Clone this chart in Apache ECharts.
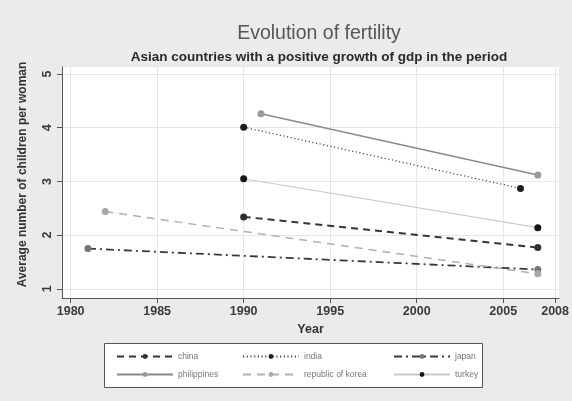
<!DOCTYPE html>
<html>
<head>
<meta charset="utf-8">
<script src="https://cdn.jsdelivr.net/npm/echarts@6/dist/echarts.min.js"></script>
<style>
html,body{margin:0;padding:0;background:#ebebeb;}
#chart{width:572px;height:401px;}
</style>
</head>
<body>
<div id="chart"></div>
<script>
// Data
const countries = ['china', 'india', 'japan', 'philippines', 'republic of korea', 'turkey'];
const startYear = [1990, 1990, 1981, 1991, 1982, 1990];
const endYear = [2007, 2006, 2007, 2007, 2007, 2007];
const startValue = [2.34, 4.01, 1.75, 4.26, 2.44, 3.05];
const endValue = [1.77, 2.87, 1.36, 3.12, 1.28, 2.14];
const xTicks = [1980, 1985, 1990, 1995, 2000, 2005, 2008];
const yTicks = [1, 2, 3, 4, 5];

// Styles
const lineColors = ['#353535', '#4a4a4a', '#3a3a3a', '#8a8a8a', '#b0b0b0', '#cacaca'];
const markerColors = ['#303030', '#1e1e1e', '#767676', '#999999', '#a8a8a8', '#151515'];
const lineTypes = [[7, 5], [1.2, 2.5], [8, 4, 2, 4], 'solid', [8, 6], 'solid'];
const lineWidths = [2, 1.3, 1.8, 1.5, 1.5, 1.2];

const chart = echarts.init(document.getElementById('chart'));

const series = countries.map((name, i) => ({
  name: name,
  type: 'line',
  data: [[startYear[i], startValue[i]], [endYear[i], endValue[i]]],
  symbol: 'circle',
  symbolSize: 7,
  showSymbol: true,
  itemStyle: { color: markerColors[i] },
  lineStyle: { color: lineColors[i], width: lineWidths[i], type: lineTypes[i] },
  emphasis: { disabled: true },
  animation: false
}));

const legendBase = {
  orient: 'vertical',
  top: 347,
  itemWidth: 56,
  itemHeight: 6,
  itemGap: 9,
  textStyle: { fontSize: 8.5, color: '#777', fontFamily: 'Liberation Sans' },
  selectedMode: false
};

chart.setOption({
  backgroundColor: '#ebebeb',
  animation: false,
  title: [
    {
      text: 'Evolution of fertility',
      left: 314, top: 19, textAlign: 'center',
      textStyle: { fontSize: 19.5, fontWeight: 'normal', color: '#555', fontFamily: 'Liberation Sans' }
    },
    {
      text: 'Asian countries with a positive growth of gdp in the period',
      left: 314, top: 45, textAlign: 'center',
      textStyle: { fontSize: 13.5, fontWeight: 'bold', color: '#2a2a2a', fontFamily: 'Liberation Sans' }
    }
  ],
  grid: {
    left: 62, right: 8, top: 67, bottom: 103,
    show: true, backgroundColor: '#ffffff', borderWidth: 0
  },
  xAxis: {
    type: 'value',
    min: 1979.5, max: 2008.23,
    name: 'Year', nameLocation: 'middle', nameGap: 24,
    nameTextStyle: { fontSize: 12.5, fontWeight: 'bold', color: '#333', fontFamily: 'Liberation Sans' },
    axisLine: { show: true, lineStyle: { color: '#555', width: 1 } },
    axisTick: { show: true, length: 5, lineStyle: { color: '#555' }, customValues: xTicks },
    axisLabel: { fontSize: 12.5, fontWeight: 'bold', color: '#3a3a3a', margin: 7, fontFamily: 'Liberation Sans', customValues: xTicks, formatter: v => String(v) },
    splitLine: { show: true, lineStyle: { color: '#e6e6e6', width: 1 } }
  },
  yAxis: {
    type: 'value',
    min: 0.83, max: 5.13,
    name: 'Average number of children per woman', nameLocation: 'middle', nameGap: 33,
    nameTextStyle: { fontSize: 12, fontWeight: 'bold', color: '#333', fontFamily: 'Liberation Sans', padding: [0, 0, 0, 16] },
    axisLine: { show: true, lineStyle: { color: '#555', width: 1 } },
    axisTick: { show: true, length: 5, lineStyle: { color: '#555' }, customValues: yTicks },
    axisLabel: { fontSize: 12.5, fontWeight: 'bold', color: '#3a3a3a', rotate: 90, margin: 8, fontFamily: 'Liberation Sans', customValues: yTicks },
    splitLine: { show: true, lineStyle: { color: '#e6e6e6', width: 1 } }
  },
  legend: [
    Object.assign({}, legendBase, { left: 111, data: [countries[0], countries[3]] }),
    Object.assign({}, legendBase, { left: 237, data: [countries[1], countries[4]] }),
    Object.assign({}, legendBase, { left: 388, data: [countries[2], countries[5]] })
  ],
  graphic: [
    {
      type: 'rect', z: 0,
      shape: { x: 104.5, y: 343.5, width: 378, height: 44 },
      style: { fill: '#ffffff', stroke: '#555', lineWidth: 1 }
    }
  ],
  series: series
});
</script>
</body>
</html>
